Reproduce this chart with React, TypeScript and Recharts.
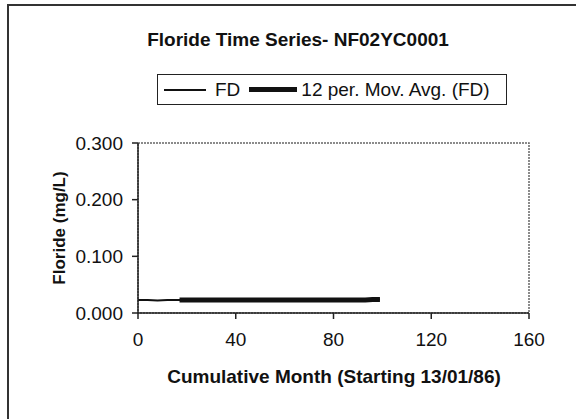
import { Legend, Line, LineChart, ReferenceArea, XAxis, YAxis } from "recharts"

// month index of each FD sample
const months = [0, 4, 8, 12, 17, 21, 25, 29, 33, 37, 41, 45, 49, 53, 57, 61, 65, 69, 73, 77, 81, 85, 89, 93, 96, 99]
const fdValues = [
  0.023, 0.023, 0.022, 0.023, 0.023, 0.023, 0.023, 0.022, 0.023, 0.023, 0.023, 0.023, 0.023,
  0.023, 0.022, 0.023, 0.023, 0.023, 0.023, 0.023, 0.023, 0.023, 0.023, 0.024, 0.025, 0.024,
]
const maValues = [
  null, null, null, null, 0.023, 0.023, 0.023, 0.023, 0.023, 0.023, 0.023, 0.023, 0.023,
  0.023, 0.023, 0.023, 0.023, 0.023, 0.023, 0.023, 0.023, 0.023, 0.023, 0.023, 0.024, 0.024,
]
const xTicks = [0, 40, 80, 120, 160]
const yTicks = [0, 0.1, 0.2, 0.3]

const data = months.map((m, i) => ({ month: m, fd: fdValues[i], ma: maValues[i] }))

const font = "'Liberation Sans', Arial, sans-serif"

function LegendBox() {
  return (
    <div
      style={{
        width: 350,
        height: 31,
        border: "1.5px solid #222",
        display: "flex",
        alignItems: "center",
        fontFamily: font,
        fontSize: 19,
        color: "#111",
        boxSizing: "border-box",
      }}
    >
      <div style={{ width: 42, height: 2, background: "#111", marginLeft: 6 }} />
      <span style={{ marginLeft: 9 }}>FD</span>
      <div style={{ width: 48, height: 5, background: "#111", marginLeft: 9 }} />
      <span style={{ marginLeft: 4 }}>12 per. Mov. Avg. (FD)</span>
    </div>
  )
}

export default function App() {
  return (
    <div style={{ position: "absolute", left: 0, top: 0, width: 576, height: 419, background: "#fff", overflow: "hidden" }}>
      <div
        style={{
          position: "absolute",
          left: 7,
          top: 4,
          right: -4,
          bottom: -4,
          borderLeft: "2px solid #333",
          borderTop: "2px solid #333",
        }}
      />
      <div
        style={{
          position: "absolute",
          left: 48,
          width: 500,
          top: 29,
          lineHeight: "22px",
          textAlign: "center",
          fontFamily: font,
          fontWeight: "bold",
          fontSize: 19,
          color: "#111",
        }}
      >
        Floride Time Series- NF02YC0001
      </div>
      <LineChart width={576} height={419} data={data} margin={{ top: 143, right: 47, left: 78, bottom: 46 }}>
        <ReferenceArea
          x1={0}
          x2={160}
          y1={0}
          y2={0.3}
          fill="none"
          stroke="#666"
          strokeWidth={1.5}
          strokeDasharray="2 1"
          ifOverflow="visible"
        />
        <XAxis
          dataKey="month"
          type="number"
          domain={[0, 160]}
          ticks={xTicks}
          height={60}
          tickSize={6}
          tickMargin={14}
          axisLine={{ stroke: "#222", strokeWidth: 1.5 }}
          tickLine={{ stroke: "#222", strokeWidth: 1.5 }}
          tick={{ fontFamily: font, fontSize: 19, fill: "#111" }}
        />
        <YAxis
          type="number"
          domain={[0, 0.3]}
          ticks={yTicks}
          width={60}
          tickSize={6}
          tickMargin={9}
          tickFormatter={(v: number) => v.toFixed(3)}
          axisLine={{ stroke: "#222", strokeWidth: 1.5 }}
          tickLine={{ stroke: "#222", strokeWidth: 1.5 }}
          tick={{ fontFamily: font, fontSize: 19, fill: "#111" }}
        />
        <Legend
          layout="horizontal"
          align="center"
          verticalAlign="middle"
          content={() => <LegendBox />}
          wrapperStyle={{ position: "absolute", left: 157, top: 74, width: 352, height: 33 }}
        />
        <Line dataKey="fd" stroke="#111" strokeWidth={2} dot={false} isAnimationActive={false} />
        <Line dataKey="ma" stroke="#111" strokeWidth={5} dot={false} isAnimationActive={false} />
      </LineChart>
      <div
        style={{
          position: "absolute",
          left: 84,
          width: 500,
          top: 366,
          lineHeight: "22px",
          textAlign: "center",
          fontFamily: font,
          fontWeight: "bold",
          fontSize: 19,
          color: "#111",
        }}
      >
        Cumulative Month (Starting 13/01/86)
      </div>
      <div
        style={{
          position: "absolute",
          left: -40,
          width: 200,
          top: 217,
          lineHeight: "22px",
          textAlign: "center",
          transform: "rotate(-90deg)",
          transformOrigin: "100px 11px",
          fontFamily: font,
          fontWeight: "bold",
          fontSize: 17,
          color: "#111",
        }}
      >
        Floride (mg/L)
      </div>
    </div>
  )
}
